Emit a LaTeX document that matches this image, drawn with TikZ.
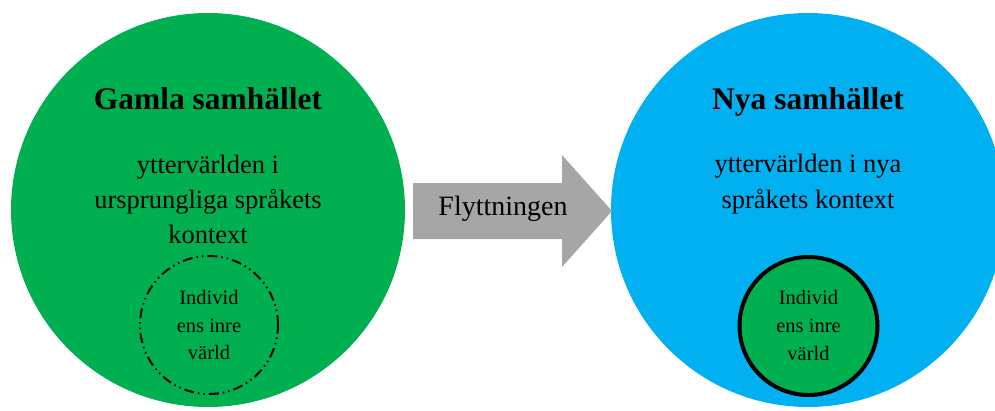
\documentclass[tikz,border=0pt]{standalone}
\usepackage{fontspec}
\setmainfont{Liberation Serif}
\definecolor{oldgreen}{HTML}{00B050}
\definecolor{newblue}{HTML}{00B0F0}
\definecolor{arrowgrey}{HTML}{A6A6A6}
\begin{document}
\begin{tikzpicture}[x=1pt,y=-1pt,
  society/.style={circle, minimum size=394pt, inner sep=0pt, draw=none},
  innerworld/.style={circle, minimum size=138pt, inner sep=0pt},
  titletext/.style={anchor=base, font=\fontsize{31.5}{38}\selectfont\bfseries},
  bodytext/.style={anchor=base, font=\fontsize{26.5}{32}\selectfont},
  smalltext/.style={anchor=base, font=\fontsize{20.5}{25}\selectfont},
  arrowtext/.style={anchor=base, font=\fontsize{28}{33}\selectfont}]
\useasboundingbox (0,0) rectangle (995,410);
\clip (0,0) rectangle (995,410);
% big circles
\node[society, fill=oldgreen] (old) at (208,210) {};
\node[society, fill=newblue] (new) at (808,210) {};
% block arrow
\fill[arrowgrey] (413,183) -- (562,183) -- (562,155) -- (612,211) -- (562,267) -- (562,239) -- (413,239) -- cycle;
\node[arrowtext] (flytt) at (503,215) {Flyttningen};
% inner circles
\node[innerworld, draw=black, line width=2pt,
      dash pattern=on 10pt off 4pt on 1.5pt off 4pt on 1.5pt off 4pt] (innerold) at (209,325) {};
\node[innerworld, fill=oldgreen, draw=black, line width=4pt] (innernew) at (808.5,326) {};
% left texts
\node[titletext] (gamla) at (208,109) {Gamla samhället};
\node[bodytext] (l1) at (208,173) {yttervärlden i};
\node[bodytext] (l2) at (208,208) {ursprungliga språkets};
\node[bodytext] (l3) at (208,243) {kontext};
\node[smalltext] (i1) at (209,304) {Individ};
\node[smalltext] (i2) at (209,332) {ens inre};
\node[smalltext] (i3) at (209,359) {värld};
% right texts
\node[titletext] (nya) at (808,109) {Nya samhället};
\node[bodytext] (r1) at (808,172) {yttervärlden i nya};
\node[bodytext] (r2) at (808,208) {språkets kontext};
\node[smalltext] (j1) at (808.5,304) {Individ};
\node[smalltext] (j2) at (808.5,332) {ens inre};
\node[smalltext] (j3) at (808.5,360) {värld};
\end{tikzpicture}
\end{document}
